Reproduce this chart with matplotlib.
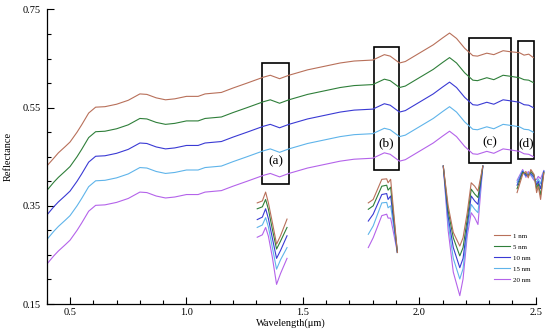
import numpy as np
import matplotlib
matplotlib.use('Agg')
import matplotlib.pyplot as plt
from matplotlib.patches import Rectangle
from matplotlib.ticker import MultipleLocator

plt.rcParams['font.family'] = ['Liberation Serif', 'DejaVu Serif']

# --- main spectra -----------------------------------------------------------
wl = [0.40, 0.43, 0.45, 0.48, 0.50, 0.53, 0.55, 0.58, 0.61, 0.65, 0.70, 0.75,
      0.80, 0.83, 0.87, 0.91, 0.95, 1.00, 1.05, 1.08, 1.15, 1.20, 1.26, 1.33,
      1.36, 1.40, 1.44, 1.52, 1.60, 1.66, 1.72, 1.80, 1.85, 1.875, 1.915, 1.94,
      2.00, 2.06, 2.10, 2.13, 2.16, 2.195, 2.23, 2.25, 2.29, 2.32, 2.36, 2.39,
      2.43, 2.45, 2.47, 2.49]
r1 = [.431, .447, .458, .471, .480, .500, .515, .539, .551, .552, .557, .565,
      .578, .577, .570, .566, .568, .573, .573, .578, .581, .590, .600, .612,
      .616, .609, .616, .627, .635, .641, .645, .647, .658, .655, .641, .644,
      .661, .678, .692, .702, .691, .671, .656, .655, .661, .658, .666, .664,
      .662, .657, .659, .652]
r5 = [.381, .398, .408, .421, .430, .450, .465, .489, .501, .502, .507, .515,
      .528, .527, .520, .516, .518, .523, .523, .528, .531, .540, .550, .562,
      .566, .559, .566, .577, .585, .591, .595, .597, .608, .605, .591, .594,
      .611, .628, .642, .652, .641, .621, .606, .605, .611, .607, .616, .614,
      .611, .607, .606, .601]
r10 = [.331, .348, .358, .371, .380, .400, .415, .439, .451, .452, .457, .465,
       .478, .477, .470, .466, .468, .473, .473, .478, .481, .490, .500, .512,
       .516, .509, .516, .527, .535, .541, .545, .547, .558, .555, .541, .544,
       .561, .578, .592, .602, .591, .571, .556, .555, .561, .557, .566, .564,
       .561, .556, .555, .550]
r15 = [.281, .298, .308, .321, .330, .350, .365, .389, .401, .402, .407, .415,
       .428, .427, .420, .416, .418, .423, .423, .428, .431, .440, .450, .462,
       .466, .459, .466, .477, .485, .491, .495, .497, .508, .505, .491, .494,
       .511, .528, .542, .552, .541, .521, .506, .505, .511, .507, .516, .514,
       .511, .506, .505, .500]
r20 = [.231, .248, .258, .271, .280, .300, .315, .339, .351, .352, .357, .365,
       .378, .377, .370, .366, .368, .373, .373, .378, .381, .390, .400, .412,
       .416, .409, .416, .427, .435, .441, .445, .447, .458, .455, .441, .444,
       .461, .478, .492, .502, .491, .471, .456, .455, .461, .457, .466, .464,
       .461, .456, .455, .450]

# --- zoomed snippets drawn under the boxes ----------------------------------
wa = [1.304, 1.326, 1.340, 1.352, 1.369, 1.387, 1.404, 1.432]
a1 = [.356, .360, .378, .356, .316, .272, .289, .323]
a5 = [.344, .348, .363, .343, .302, .262, .278, .306]
a10 = [.322, .327, .344, .324, .284, .243, .259, .289]
a15 = [.306, .311, .326, .307, .265, .221, .240, .265]
a20 = [.286, .291, .306, .288, .245, .190, .212, .243]

wb = [1.781, 1.802, 1.839, 1.860, 1.866, 1.877, 1.906]
b1 = [.356, .363, .404, .405, .397, .404, .255]
b5 = [.343, .350, .390, .392, .382, .388, .255]
b10 = [.319, .333, .373, .375, .363, .370, .255]
b15 = [.292, .309, .356, .357, .346, .350, .255]
b20 = [.265, .285, .330, .333, .325, .325, .255]

wc = [2.103, 2.124, 2.146, 2.174, 2.188, 2.206, 2.223, 2.238, 2.252, 2.273]
c1 = [.431, .350, .296, .268, .285, .336, .397, .390, .380, .431]
c5 = [.431, .340, .285, .248, .265, .323, .384, .374, .367, .431]
c10 = [.431, .328, .265, .224, .243, .310, .370, .360, .353, .431]
c15 = [.431, .315, .243, .201, .222, .300, .353, .343, .336, .431]
c20 = [.431, .300, .215, .167, .201, .289, .336, .326, .312, .431]

wd = [2.420, 2.444, 2.458, 2.468, 2.479, 2.493, 2.504, 2.511, 2.521, 2.535]
d1 = [.377, .414, .420, .407, .424, .414, .377, .390, .363, .417]
d5 = [.385, .418, .416, .410, .420, .412, .385, .395, .372, .418]
d10 = [.392, .420, .412, .414, .416, .409, .392, .400, .385, .420]
d15 = [.398, .422, .410, .417, .414, .405, .398, .405, .395, .421]
d20 = [.402, .424, .408, .420, .412, .402, .404, .410, .405, .422]

labels = ['1 nm', '5 nm', '10 nm', '15 nm', '20 nm']
colors = ['#b8705a', '#2f7f3a', '#3a3ad4', '#5fb4ea', '#b463ea']

# boxes: label, x0, x1, y0, y1, label y
boxes = [('(a)', 1.326, 1.440, 0.394, 0.641, 0.440),
         ('(b)', 1.806, 1.914, 0.424, 0.674, 0.478),
         ('(c)', 2.212, 2.394, 0.438, 0.692, 0.480),
         ('(d)', 2.423, 2.494, 0.446, 0.685, 0.477)]

fig = plt.figure(figsize=(5.5, 3.34), dpi=100)
ax = fig.add_axes([0.085, 0.0898, 0.889, 0.8818])

main = [r1, r5, r10, r15, r20]
for ys, c, lab in zip(main, colors, labels):
    ax.plot(wl, ys, color=c, lw=0.8, label=lab)

snips = [(wa, [a1, a5, a10, a15, a20]),
         (wb, [b1, b5, b10, b15, b20]),
         (wc, [c1, c5, c10, c15, c20]),
         (wd, [d1, d5, d10, d15, d20])]
for xs, series in snips:
    for ys, c in reversed(list(zip(series, colors))):
        ax.plot(xs, ys, color=c, lw=0.8, clip_on=False)

for lab, x0, x1, y0, y1, ly in boxes:
    ax.add_patch(Rectangle((x0, y0), x1 - x0, y1 - y0, fill=False,
                           edgecolor='black', lw=1.2))
    ax.text((x0 + x1) / 2, ly, lab, ha='center', va='center', fontsize=9.5)

ax.set_xlim(0.4, 2.5)
ax.set_ylim(0.15, 0.75)
ax.set_xticks([0.5, 1.0, 1.5, 2.0, 2.5])
ax.set_yticks([0.15, 0.35, 0.55, 0.75])
ax.xaxis.set_minor_locator(MultipleLocator(0.1))
ax.yaxis.set_minor_locator(MultipleLocator(0.05))
ax.tick_params(which='both', direction='in', labelsize=7.5, width=0.8)
ax.tick_params(which='major', length=5)
ax.tick_params(which='minor', length=3)
ax.tick_params(axis='y', pad=4)
ax.tick_params(axis='x', pad=3)
for s in ['top', 'right']:
    ax.spines[s].set_visible(False)
for s in ['left', 'bottom']:
    ax.spines[s].set_linewidth(0.9)

ax.set_xlabel('Wavelength(μm)', fontsize=7.5, labelpad=1)
ax.set_ylabel('Reflectance', fontsize=7.5, labelpad=7)

ax.legend(loc='center', bbox_to_anchor=(0.931, 0.228),
          bbox_transform=fig.transFigure, frameon=False, fontsize=5,
          handlelength=2.4, labelspacing=0.75, handletextpad=0.4)

plt.savefig('out.png', dpi=100)
